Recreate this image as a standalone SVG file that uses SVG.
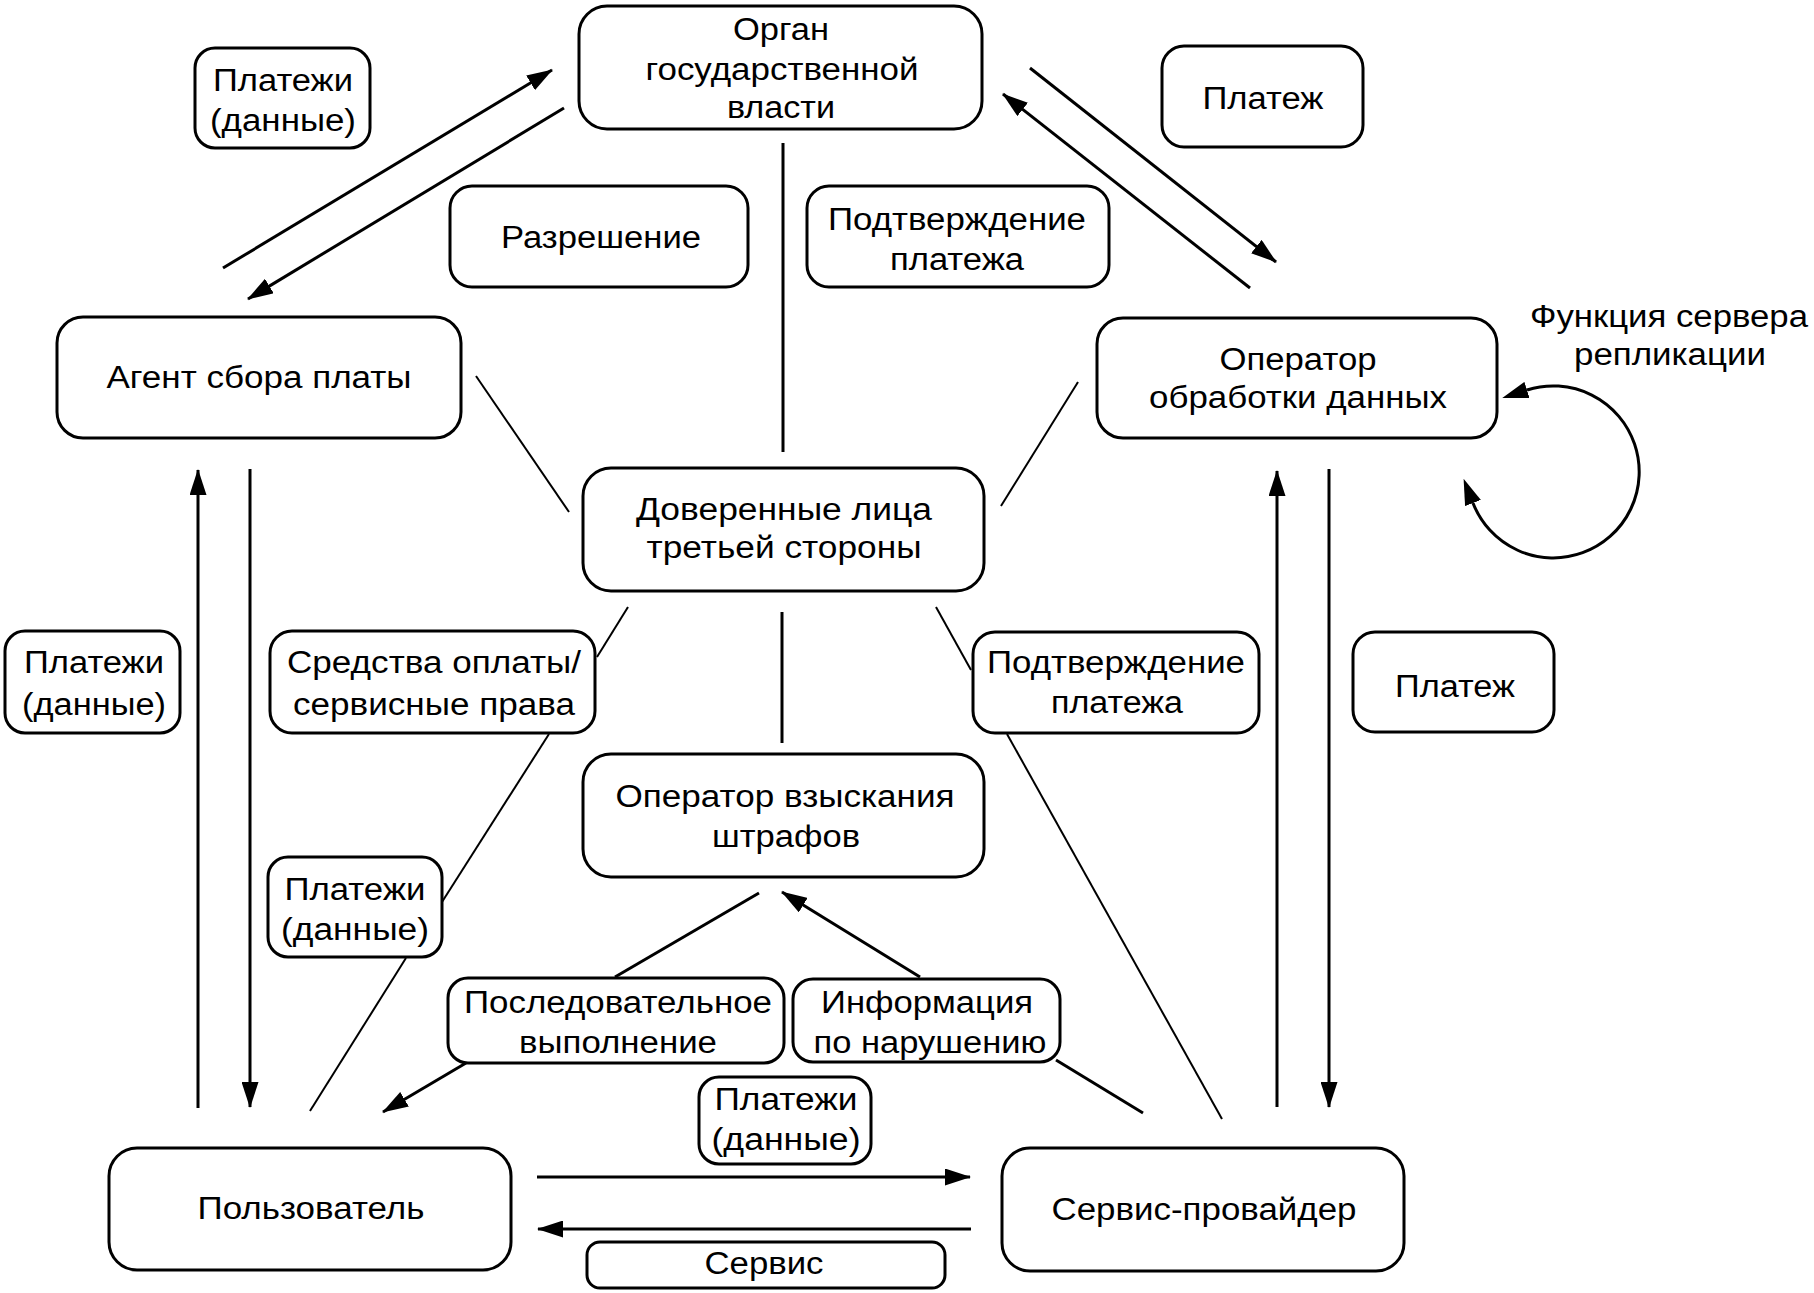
<svg xmlns="http://www.w3.org/2000/svg" width="1814" height="1293" viewBox="0 0 1814 1293">
<style>
.b{fill:#fff;stroke:#000;stroke-width:3}
.t{font-family:"Liberation Sans",Arial,sans-serif;font-size:31px;fill:#000;text-anchor:middle}
.k{stroke:#000;stroke-width:3;fill:none}
.n{stroke:#000;stroke-width:2;fill:none}
.a{stroke:#000;stroke-width:3;fill:none;marker-end:url(#arr)}
</style>
<defs>
<marker id="arr" markerUnits="userSpaceOnUse" markerWidth="26" markerHeight="17" refX="25" refY="8.5" orient="auto"><path d="M0,0 L26,8.5 L0,17 Z" fill="#000"/></marker>
<marker id="arr0" markerUnits="userSpaceOnUse" markerWidth="26" markerHeight="17" refX="0" refY="8.5" orient="auto-start-reverse"><path d="M0,0 L26,8.5 L0,17 Z" fill="#000"/></marker>
</defs>
<rect width="1814" height="1293" fill="#fff"/>
<g id="connectors">
<line class="a" x1="223" y1="268" x2="552" y2="70"/>
<line class="a" x1="564" y1="108" x2="248" y2="299"/>
<line class="a" x1="1030" y1="68" x2="1276" y2="262"/>
<line class="a" x1="1250" y1="288" x2="1003" y2="94"/>
<line class="a" x1="198" y1="1108" x2="198" y2="470"/>
<line class="a" x1="250" y1="469" x2="250" y2="1107"/>
<line class="a" x1="1277" y1="1107" x2="1277" y2="471"/>
<line class="a" x1="1329" y1="469" x2="1329" y2="1107"/>
<line class="a" x1="920" y1="977" x2="782" y2="892"/>
<line class="a" x1="466" y1="1063" x2="383" y2="1112"/>
<line class="a" x1="537" y1="1177" x2="970" y2="1177"/>
<line class="a" x1="971" y1="1229" x2="538" y2="1229"/>
<path class="k" d="M1473,503 A86,86 0 1 0 1527,390" marker-start="url(#arr0)" marker-end="url(#arr0)"/>
<line class="k" x1="783" y1="143" x2="783" y2="452"/>
<line class="k" x1="782" y1="612" x2="782" y2="743"/>
<line class="k" x1="759" y1="893" x2="615" y2="977"/>
<line class="k" x1="1056" y1="1060" x2="1143" y2="1113"/>
<line class="n" x1="476" y1="376" x2="569" y2="512"/>
<line class="n" x1="1078" y1="382" x2="1001" y2="506"/>
<line class="n" x1="628" y1="607" x2="597" y2="657"/>
<line class="n" x1="549" y1="734" x2="442" y2="902"/>
<line class="n" x1="406" y1="958" x2="310" y2="1111"/>
<line class="n" x1="936" y1="607" x2="971" y2="670"/>
<line class="n" x1="1007" y1="734" x2="1222" y2="1119"/>
</g>
<g id="organ"><rect class="b" x="579" y="6" width="403" height="123" rx="28"/>
<text class="t" x="781" y="40" textLength="96" lengthAdjust="spacingAndGlyphs">Орган</text>
<text class="t" x="782" y="80" textLength="273" lengthAdjust="spacingAndGlyphs">государственной</text>
<text class="t" x="781" y="118" textLength="108" lengthAdjust="spacingAndGlyphs">власти</text></g>
<g id="lbl-payments-tl"><rect class="b" x="195" y="48" width="175" height="100" rx="20"/>
<text class="t" x="283" y="91" textLength="140" lengthAdjust="spacingAndGlyphs">Платежи</text>
<text class="t" x="283" y="131" textLength="146" lengthAdjust="spacingAndGlyphs">(данные)</text></g>
<g id="lbl-permission"><rect class="b" x="450" y="186" width="298" height="101" rx="22"/>
<text class="t" x="601" y="248" textLength="200" lengthAdjust="spacingAndGlyphs">Разрешение</text></g>
<g id="lbl-confirm-top"><rect class="b" x="807" y="186" width="302" height="101" rx="22"/>
<text class="t" x="957" y="230" textLength="258" lengthAdjust="spacingAndGlyphs">Подтверждение</text>
<text class="t" x="957" y="270" textLength="134" lengthAdjust="spacingAndGlyphs">платежа</text></g>
<g id="lbl-payment-top"><rect class="b" x="1162" y="46" width="201" height="101" rx="22"/>
<text class="t" x="1263" y="109" textLength="121" lengthAdjust="spacingAndGlyphs">Платеж</text></g>
<g id="agent"><rect class="b" x="57" y="317" width="404" height="121" rx="26"/>
<text class="t" x="259" y="388" textLength="305" lengthAdjust="spacingAndGlyphs">Агент сбора платы</text></g>
<g id="data-operator"><rect class="b" x="1097" y="318" width="400" height="120" rx="26"/>
<text class="t" x="1298" y="370" textLength="157" lengthAdjust="spacingAndGlyphs">Оператор</text>
<text class="t" x="1298" y="408" textLength="298" lengthAdjust="spacingAndGlyphs">обработки данных</text></g>
<g id="lbl-replication">
<text class="t" x="1669" y="327" textLength="278" lengthAdjust="spacingAndGlyphs">Функция сервера</text>
<text class="t" x="1670" y="365" textLength="192" lengthAdjust="spacingAndGlyphs">репликации</text></g>
<g id="trusted"><rect class="b" x="583" y="468" width="401" height="123" rx="28"/>
<text class="t" x="784" y="520" textLength="296" lengthAdjust="spacingAndGlyphs">Доверенные лица</text>
<text class="t" x="784" y="558" textLength="275" lengthAdjust="spacingAndGlyphs">третьей стороны</text></g>
<g id="lbl-payments-l"><rect class="b" x="5" y="631" width="175" height="102" rx="20"/>
<text class="t" x="94" y="673" textLength="140" lengthAdjust="spacingAndGlyphs">Платежи</text>
<text class="t" x="94" y="715" textLength="144" lengthAdjust="spacingAndGlyphs">(данные)</text></g>
<g id="lbl-means"><rect class="b" x="270" y="631" width="325" height="102" rx="22"/>
<text class="t" x="434" y="673" textLength="294" lengthAdjust="spacingAndGlyphs">Средства оплаты/</text>
<text class="t" x="434" y="715" textLength="282" lengthAdjust="spacingAndGlyphs">сервисные права</text></g>
<g id="lbl-confirm-mid"><rect class="b" x="973" y="632" width="286" height="101" rx="22"/>
<text class="t" x="1116" y="673" textLength="258" lengthAdjust="spacingAndGlyphs">Подтверждение</text>
<text class="t" x="1117" y="713" textLength="132" lengthAdjust="spacingAndGlyphs">платежа</text></g>
<g id="lbl-payment-mid"><rect class="b" x="1353" y="632" width="201" height="100" rx="22"/>
<text class="t" x="1455" y="697" textLength="120" lengthAdjust="spacingAndGlyphs">Платеж</text></g>
<g id="enforcement"><rect class="b" x="583" y="754" width="401" height="123" rx="28"/>
<text class="t" x="785" y="807" textLength="339" lengthAdjust="spacingAndGlyphs">Оператор взыскания</text>
<text class="t" x="786" y="847" textLength="148" lengthAdjust="spacingAndGlyphs">штрафов</text></g>
<g id="lbl-payments-2"><rect class="b" x="268" y="857" width="174" height="100" rx="20"/>
<text class="t" x="355" y="900" textLength="141" lengthAdjust="spacingAndGlyphs">Платежи</text>
<text class="t" x="355" y="940" textLength="148" lengthAdjust="spacingAndGlyphs">(данные)</text></g>
<g id="lbl-sequential"><rect class="b" x="448" y="978" width="336" height="85" rx="20"/>
<text class="t" x="618" y="1013" textLength="308" lengthAdjust="spacingAndGlyphs">Последовательное</text>
<text class="t" x="618" y="1053" textLength="198" lengthAdjust="spacingAndGlyphs">выполнение</text></g>
<g id="lbl-violation"><rect class="b" x="793" y="979" width="267" height="83" rx="20"/>
<text class="t" x="927" y="1013" textLength="212" lengthAdjust="spacingAndGlyphs">Информация</text>
<text class="t" x="930" y="1053" textLength="233" lengthAdjust="spacingAndGlyphs">по нарушению</text></g>
<g id="lbl-payments-3"><rect class="b" x="699" y="1077" width="172" height="87" rx="20"/>
<text class="t" x="786" y="1110" textLength="143" lengthAdjust="spacingAndGlyphs">Платежи</text>
<text class="t" x="786" y="1150" textLength="149" lengthAdjust="spacingAndGlyphs">(данные)</text></g>
<g id="user"><rect class="b" x="109" y="1148" width="402" height="122" rx="28"/>
<text class="t" x="311" y="1219" textLength="227" lengthAdjust="spacingAndGlyphs">Пользователь</text></g>
<g id="lbl-service"><rect class="b" x="587" y="1242" width="358" height="46" rx="13"/>
<text class="t" x="764" y="1274" textLength="119" lengthAdjust="spacingAndGlyphs">Сервис</text></g>
<g id="provider"><rect class="b" x="1002" y="1148" width="402" height="123" rx="28"/>
<text class="t" x="1204" y="1220" textLength="305" lengthAdjust="spacingAndGlyphs">Сервис-провайдер</text></g>
</svg>
